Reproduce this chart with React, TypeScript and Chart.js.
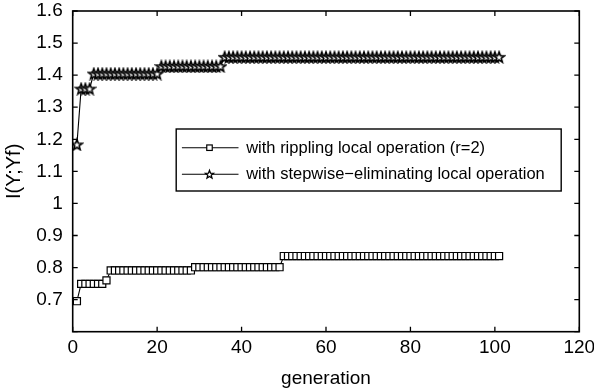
import { useEffect, useRef } from "react";
import { Chart, registerables } from "chart.js";

Chart.register(...registerables);

// generation index of every recorded point
const generations: number[] = Array.from({ length: 101 }, (_, i) => i + 1);

// I(Y;Yf) per generation, rippling local operation (r=2)
const ripplingValues: number[] = [
  0.695, 0.749, 0.749, 0.749, 0.749, 0.749, 0.749, 0.760, 0.791, 0.791,
  0.791, 0.791, 0.791, 0.791, 0.791, 0.791, 0.791, 0.791, 0.791, 0.791,
  0.791, 0.791, 0.791, 0.791, 0.791, 0.791, 0.791, 0.791, 0.801, 0.801,
  0.801, 0.801, 0.801, 0.801, 0.801, 0.801, 0.801, 0.801, 0.801, 0.801,
  0.801, 0.801, 0.801, 0.801, 0.801, 0.801, 0.801, 0.801, 0.801, 0.836,
  0.836, 0.836, 0.836, 0.836, 0.836, 0.836, 0.836, 0.836, 0.836, 0.836,
  0.836, 0.836, 0.836, 0.836, 0.836, 0.836, 0.836, 0.836, 0.836, 0.836,
  0.836, 0.836, 0.836, 0.836, 0.836, 0.836, 0.836, 0.836, 0.836, 0.836,
  0.836, 0.836, 0.836, 0.836, 0.836, 0.836, 0.836, 0.836, 0.836, 0.836,
  0.836, 0.836, 0.836, 0.836, 0.836, 0.836, 0.836, 0.836, 0.836, 0.836,
  0.836,
];

// I(Y;Yf) per generation, stepwise-eliminating local operation
const stepwiseValues: number[] = [
  1.184, 1.358, 1.358, 1.358, 1.405, 1.405, 1.405, 1.405, 1.405, 1.405,
  1.405, 1.405, 1.405, 1.405, 1.405, 1.405, 1.405, 1.405, 1.405, 1.405,
  1.428, 1.428, 1.428, 1.428, 1.428, 1.428, 1.428, 1.428, 1.428, 1.428,
  1.428, 1.428, 1.428, 1.428, 1.428, 1.457, 1.457, 1.457, 1.457, 1.457,
  1.457, 1.457, 1.457, 1.457, 1.457, 1.457, 1.457, 1.457, 1.457, 1.457,
  1.457, 1.457, 1.457, 1.457, 1.457, 1.457, 1.457, 1.457, 1.457, 1.457,
  1.457, 1.457, 1.457, 1.457, 1.457, 1.457, 1.457, 1.457, 1.457, 1.457,
  1.457, 1.457, 1.457, 1.457, 1.457, 1.457, 1.457, 1.457, 1.457, 1.457,
  1.457, 1.457, 1.457, 1.457, 1.457, 1.457, 1.457, 1.457, 1.457, 1.457,
  1.457, 1.457, 1.457, 1.457, 1.457, 1.457, 1.457, 1.457, 1.457, 1.457,
  1.457,
];

const seriesLabels: string[] = [
  "with rippling local operation (r=2)",
  "with stepwise\u2212eliminating local operation",
];

const xTickValues: number[] = [0, 20, 40, 60, 80, 100, 120];
const yTickValues: number[] = [0.6, 0.7, 0.8, 0.9, 1.0, 1.1, 1.2, 1.3, 1.4, 1.5, 1.6];

const FONT_FAMILY = "'Liberation Sans', Arial, Helvetica, sans-serif";

function traceStar(ctx: CanvasRenderingContext2D, cx: number, cy: number, outer: number, inner: number) {
  ctx.beginPath();
  for (let i = 0; i < 10; i++) {
    const r = i % 2 === 0 ? outer : inner;
    const a = -Math.PI / 2 + (i * Math.PI) / 5;
    const px = cx + r * Math.cos(a);
    const py = cy + r * Math.sin(a);
    if (i === 0) ctx.moveTo(px, py);
    else ctx.lineTo(px, py);
  }
  ctx.closePath();
}

function makeStarImage(size: number, outer: number, inner: number): HTMLCanvasElement {
  const c = document.createElement("canvas");
  c.width = size;
  c.height = size;
  const ctx = c.getContext("2d")!;
  traceStar(ctx, size / 2, size / 2 + 0.7, outer, inner);
  ctx.fillStyle = "#ffffff";
  ctx.fill();
  ctx.strokeStyle = "#000000";
  ctx.lineWidth = 1.6;
  ctx.lineJoin = "miter";
  ctx.stroke();
  return c;
}

function drawSquare(ctx: CanvasRenderingContext2D, cx: number, cy: number, side: number) {
  ctx.fillStyle = "#ffffff";
  ctx.fillRect(cx - side / 2, cy - side / 2, side, side);
  ctx.strokeStyle = "#000000";
  ctx.lineWidth = 1.2;
  ctx.strokeRect(cx - side / 2, cy - side / 2, side, side);
}

// axes box with inward ticks on all four sides, plus the boxed key
const framePlugin = {
  id: "frameBox",
  afterDatasetsDraw(chart: any) {
    const { ctx, chartArea } = chart;
    const { left, right, top, bottom } = chartArea;
    const xs = chart.scales.x;
    const ys = chart.scales.y;
    const len = 5;
    ctx.save();
    ctx.strokeStyle = "#000000";
    ctx.lineWidth = 1.6;
    ctx.strokeRect(left, top, right - left, bottom - top);
    ctx.lineWidth = 1.3;
    ctx.beginPath();
    for (const v of xTickValues) {
      const px = xs.getPixelForValue(v);
      ctx.moveTo(px, bottom);
      ctx.lineTo(px, bottom - len);
      ctx.moveTo(px, top);
      ctx.lineTo(px, top + len);
    }
    for (const v of yTickValues) {
      const py = ys.getPixelForValue(v);
      ctx.moveTo(left, py);
      ctx.lineTo(left + len, py);
      ctx.moveTo(right, py);
      ctx.lineTo(right - len, py);
    }
    ctx.stroke();
    ctx.restore();
  },
  afterDraw(chart: any) {
    const { ctx, chartArea } = chart;
    const boxLeft = chartArea.left + 103.5;
    const boxTop = chartArea.top + 118;
    const boxW = 385;
    const boxH = 62;
    ctx.save();
    ctx.fillStyle = "#ffffff";
    ctx.fillRect(boxLeft, boxTop, boxW, boxH);
    ctx.strokeStyle = "#000000";
    ctx.lineWidth = 1.4;
    ctx.strokeRect(boxLeft, boxTop, boxW, boxH);

    const rows = [boxTop + 18.7, boxTop + 45.3];
    ctx.font = `16.5px ${FONT_FAMILY}`;
    ctx.textBaseline = "middle";
    ctx.textAlign = "left";
    rows.forEach((ry, i) => {
      ctx.strokeStyle = "#000000";
      ctx.lineWidth = 1.1;
      ctx.beginPath();
      ctx.moveTo(boxLeft + 5.7, ry);
      ctx.lineTo(boxLeft + 62.3, ry);
      ctx.stroke();
      const mx = boxLeft + 33.3;
      if (i === 0) {
        drawSquare(ctx, mx, ry, 5.5);
      } else {
        traceStar(ctx, mx, ry + 0.3, 4.2, 1.8);
        ctx.fillStyle = "#ffffff";
        ctx.fill();
        ctx.lineWidth = 1.3;
        ctx.stroke();
      }
      ctx.fillStyle = "#000000";
      ctx.fillText(seriesLabels[i], boxLeft + 70, ry + 0.5);
    });
    ctx.restore();
  },
};

export default function App() {
  const canvasRef = useRef<HTMLCanvasElement | null>(null);

  useEffect(() => {
    const canvas = canvasRef.current;
    if (!canvas) return;
    const starImage = makeStarImage(14, 5.6, 2.3);
    const tickFont = { family: FONT_FAMILY, size: 19 };
    const titleFont = { family: FONT_FAMILY, size: 19 };

    const chart = new Chart(canvas, {
      type: "line",
      data: {
        datasets: [
          {
            label: seriesLabels[0],
            data: generations.map((g, i) => ({ x: g, y: ripplingValues[i] })),
            borderColor: "#000000",
            borderWidth: 1.1,
            backgroundColor: "#ffffff",
            pointStyle: "rect",
            pointRadius: 5,
            pointBorderWidth: 1.2,
            pointBorderColor: "#000000",
            pointBackgroundColor: "#ffffff",
            tension: 0,
          },
          {
            label: seriesLabels[1],
            data: generations.map((g, i) => ({ x: g, y: stepwiseValues[i] })),
            borderColor: "#000000",
            borderWidth: 1.1,
            backgroundColor: "#ffffff",
            pointStyle: starImage as any,
            pointRadius: 5,
            tension: 0,
          },
        ],
      },
      options: {
        responsive: false,
        maintainAspectRatio: false,
        animation: false,
        devicePixelRatio: 1,
        layout: { padding: { top: 11, right: 14.7, left: 0, bottom: 0 } },
        plugins: {
          legend: { display: false },
          tooltip: { enabled: false },
        },
        scales: {
          x: {
            type: "linear",
            min: 0,
            max: 120,
            afterBuildTicks: (s: any) => {
              s.ticks = xTickValues.map((v) => ({ value: v }));
            },
            afterFit: (s: any) => {
              s.height = 59.3;
              s.paddingLeft = 0;
              s.paddingRight = 0;
            },
            grid: { display: false, drawTicks: false },
            border: { display: false },
            ticks: {
              font: tickFont,
              color: "#000000",
              padding: 5,
              maxRotation: 0,
              callback: (v: any) => String(v),
            },
            title: {
              display: true,
              text: "generation",
              font: titleFont,
              color: "#000000",
              padding: { top: 0, bottom: 1 },
            },
          },
          y: {
            type: "linear",
            min: 0.6,
            max: 1.6,
            afterBuildTicks: (s: any) => {
              s.ticks = yTickValues.map((v) => ({ value: v }));
            },
            afterFit: (s: any) => {
              s.width = 72.7;
              s.paddingTop = 0;
              s.paddingBottom = 0;
            },
            grid: { display: false, drawTicks: false },
            border: { display: false },
            ticks: {
              font: tickFont,
              color: "#000000",
              padding: 10,
              callback: (v: any) => (Math.abs(v - 0.6) < 1e-9 ? "" : String(Number(Number(v).toFixed(1)))),
            },
            title: {
              display: true,
              text: "I(Y;Yf)",
              font: { family: FONT_FAMILY, size: 20 },
              color: "#000000",
              padding: { top: 2, bottom: 0 },
            },
          },
        },
      },
      plugins: [framePlugin],
    });

    return () => {
      chart.destroy();
    };
  }, []);

  return (
    <div style={{ position: "fixed", left: 0, top: 0, width: 594, height: 391, background: "#ffffff" }}>
      <canvas ref={canvasRef} width={594} height={391} style={{ display: "block", width: 594, height: 391 }} />
    </div>
  );
}
